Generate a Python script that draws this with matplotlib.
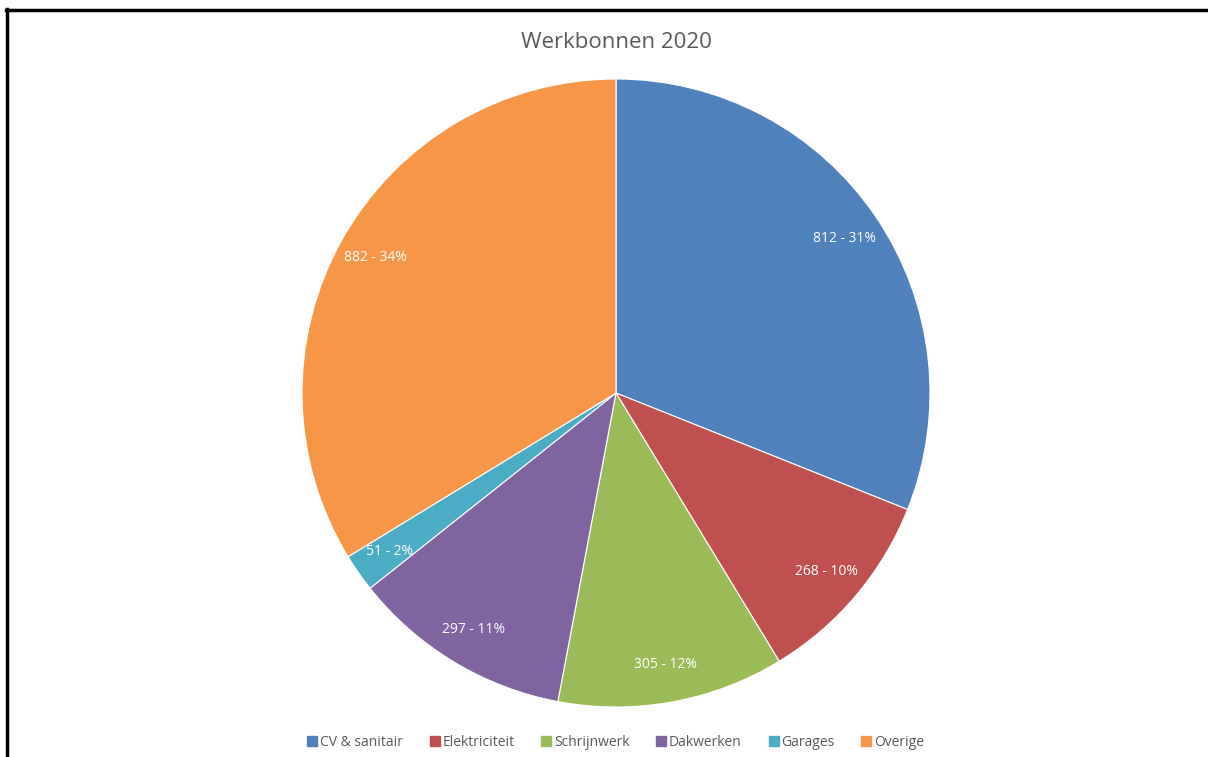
import matplotlib
matplotlib.use("Agg")
import matplotlib.pyplot as plt
from matplotlib.lines import Line2D

categories = ["CV & sanitair", "Elektriciteit", "Schrijnwerk", "Dakwerken", "Garages", "Overige"]
counts = [812, 268, 305, 297, 51, 882]
colors = ["#4F81BD", "#C0504D", "#9BBB59", "#8064A2", "#4BACC6", "#F79646"]

W, H = 1208, 757
fig = plt.figure(figsize=(W / 100, H / 100), dpi=100)
fig.patch.set_facecolor("white")

# pie placement in pixels
cx, cy, r = 616, 393, 314
ax = fig.add_axes([(cx - r) / W, 1 - (cy + r) / H, 2 * r / W, 2 * r / H])

total = sum(counts)

def fmt(pct):
    val = int(round(pct * total / 100.0))
    return f"{val} - {pct:.0f}%"

wedges, texts, autotexts = ax.pie(
    counts, colors=colors, startangle=90, counterclock=False,
    autopct=fmt, pctdistance=0.88, radius=1.0,
    wedgeprops=dict(linewidth=0.8, edgecolor="white"),
    textprops=dict(color="white", fontsize=10, family="Open Sans"),
)
ax.set_xlim(-1, 1)
ax.set_ylim(-1, 1)
ax.set_aspect("equal")
ax.axis("off")

fig.text(cx / W, 1 - 42 / H, "Werkbonnen 2020", ha="center", va="center",
         fontsize=16, color="#595959", family="Open Sans")

handles = [Line2D([], [], marker="s", linestyle="none", markersize=7,
                  markerfacecolor=c, markeredgecolor=c) for c in colors]
fig.legend(handles, categories, loc="center", ncol=6,
           bbox_to_anchor=(cx / W, 1 - 742 / H), frameon=False,
           labelcolor="#595959", handlelength=0.6,
           handletextpad=0.25, columnspacing=2.0,
           prop=dict(family="Open Sans", size=10))

# frame lines on the left and top
fig.add_artist(Line2D([7 / W, 7 / W], [0, 1 - 9 / H], color="black", linewidth=2.5,
                      transform=fig.transFigure))
fig.add_artist(Line2D([6 / W, 1], [1 - 10 / H, 1 - 10 / H], color="black", linewidth=2.5,
                      transform=fig.transFigure))

fig.savefig("out.png", dpi=100)
